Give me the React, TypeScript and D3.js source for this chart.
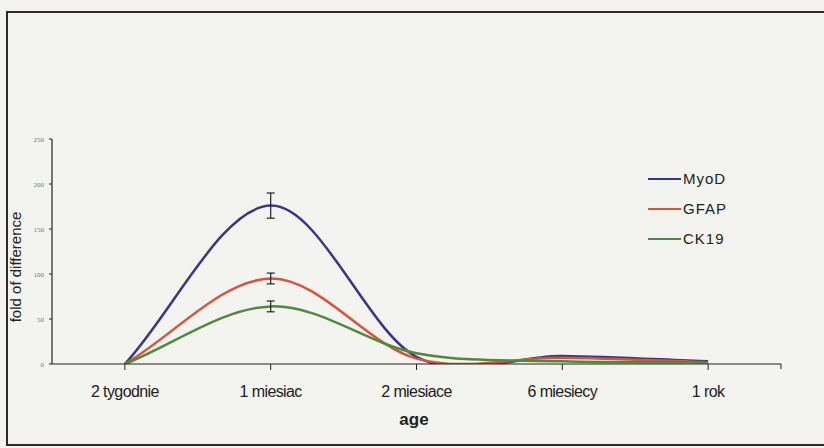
import React, { useRef, useEffect } from 'react'
import * as d3 from 'd3'

const categories = ['2 tygodnie', '1 miesiac', '2 miesiace', '6 miesiecy', '1 rok']
const seriesNames = ['MyoD', 'GFAP', 'CK19']
const myodValues = [0, 176, 8, 9, 3]
const gfapValues = [0, 95, 6, 7, 2]
const ck19Values = [0, 64, 12, 3, 2]
// error bars only at 1 miesiac
const myodErr = [0, 14, 0, 0, 0]
const gfapErr = [0, 6, 0, 0, 0]
const ck19Err = [0, 6, 0, 0, 0]
const yTicks = [0, 50, 100, 150, 200, 250]
const colors = ['#3b3585', '#d9533c', '#4f8a3a']

// excel style smoothed line: catmull-rom inside, secant tangents at the ends
function smoothPath(pts) {
  const p = d3.path()
  const n = pts.length
  const tan = pts.map((pt, i) => {
    const a = pts[Math.max(i - 1, 0)]
    const b = pts[Math.min(i + 1, n - 1)]
    const k = (i === 0 || i === n - 1) ? 1 : 0.5
    return [(b[0] - a[0]) * k, (b[1] - a[1]) * k]
  })
  p.moveTo(pts[0][0], pts[0][1])
  for (let i = 0; i < n - 1; i++) {
    p.bezierCurveTo(
      pts[i][0] + tan[i][0] / 3, pts[i][1] + tan[i][1] / 3,
      pts[i + 1][0] - tan[i + 1][0] / 3, pts[i + 1][1] - tan[i + 1][1] / 3,
      pts[i + 1][0], pts[i + 1][1]
    )
  }
  return p.toString()
}

export default function App() {
  const ref = useRef(null)

  useEffect(() => {
    const svg = d3.select(ref.current)
    svg.selectAll('*').remove()

    const margin = { left: 52, right: 43, top: 139, bottom: 84 }
    const W = 824, H = 448
    const width = W - margin.left - margin.right
    const height = H - margin.top - margin.bottom

    svg.append('rect').attr('width', W).attr('height', H).attr('fill', '#f3f3f0')
    // outer frame
    svg.append('rect')
      .attr('x', 7).attr('y', 12).attr('width', 830).attr('height', 433)
      .attr('fill', 'none').attr('stroke', '#2e2a2a').attr('stroke-width', 2)

    svg.append('defs').append('clipPath').attr('id', 'plotclip')
      .append('rect').attr('x', 0).attr('y', -10).attr('width', width).attr('height', height + 10)

    const g = svg.append('g').attr('transform', 'translate(' + margin.left + ',' + margin.top + ')')

    const x = d3.scaleBand().domain(categories).range([0, width])
    const y = d3.scaleLinear().domain([0, 250]).range([height, 0])
    const cx = d => x(d) + x.bandwidth() / 2

    // y axis
    g.append('line').attr('x1', 0).attr('x2', 0).attr('y1', 0).attr('y2', height)
      .attr('stroke', '#222').attr('stroke-width', 1.2)
    yTicks.forEach(t => {
      g.append('line').attr('x1', -3).attr('x2', 0).attr('y1', y(t)).attr('y2', y(t))
        .attr('stroke', '#222')
      g.append('text').attr('x', -8).attr('y', y(t) + 2.5).attr('text-anchor', 'end')
        .attr('font-family', 'Liberation Serif').attr('font-size', 7).attr('fill', '#777')
        .text(t)
    })

    const allValues = [myodValues, gfapValues, ck19Values]
    const allErr = [myodErr, gfapErr, ck19Err]

    const lines = g.append('g').attr('clip-path', 'url(#plotclip)')
    allValues.forEach((vals, s) => {
      const pts = vals.map((v, i) => [cx(categories[i]), y(v)])
      lines.append('path').attr('d', smoothPath(pts))
        .attr('fill', 'none').attr('stroke', colors[s]).attr('stroke-width', 2.5)
    })

    // x axis
    g.append('line').attr('x1', 0).attr('x2', width).attr('y1', height).attr('y2', height)
      .attr('stroke', '#222').attr('stroke-width', 1.2)
    categories.forEach(c => {
      g.append('line').attr('x1', cx(c)).attr('x2', cx(c)).attr('y1', height).attr('y2', height + 6)
        .attr('stroke', '#222')
      g.append('text').attr('x', cx(c)).attr('y', height + 33).attr('text-anchor', 'middle')
        .attr('font-family', 'Liberation Sans').attr('font-size', 16).attr('fill', '#222')
        .attr('letter-spacing', -0.6)
        .text(c)
    })
    g.append('line').attr('x1', width).attr('x2', width).attr('y1', height).attr('y2', height + 5)
      .attr('stroke', '#222')

    // axis titles
    svg.append('text').attr('x', 414).attr('y', 425).attr('text-anchor', 'middle')
      .attr('font-family', 'Liberation Sans').attr('font-weight', 'bold').attr('font-size', 17)
      .attr('fill', '#222').text('age')
    svg.append('text').attr('transform', 'translate(21,267) rotate(-90)').attr('text-anchor', 'middle')
      .attr('font-family', 'Liberation Sans').attr('font-size', 15).attr('fill', '#222')
      .text('fold of difference')

    // error bars
    allValues.forEach((vals, s) => {
      vals.forEach((v, i) => {
        const e = allErr[s][i]
        if (!e) return
        const px = cx(categories[i])
        g.append('line').attr('x1', px).attr('x2', px).attr('y1', y(v + e)).attr('y2', y(v - e))
          .attr('stroke', '#222').attr('stroke-width', 1.2)
        ;[v + e, v - e].forEach(w => {
          g.append('line').attr('x1', px - 4).attr('x2', px + 4).attr('y1', y(w)).attr('y2', y(w))
            .attr('stroke', '#222').attr('stroke-width', 1.2)
        })
      })
    })

    // legend
    seriesNames.forEach((n, i) => {
      const ly = 179 + i * 30
      svg.append('line').attr('x1', 648).attr('x2', 681).attr('y1', ly).attr('y2', ly)
        .attr('stroke', colors[i]).attr('stroke-width', 2)
      svg.append('text').attr('x', 683).attr('y', ly + 5)
        .attr('font-family', 'Liberation Sans').attr('font-size', 15).attr('fill', '#222')
        .attr('letter-spacing', 1)
        .text(n)
    })
  }, [])

  return (
    <svg
      ref={ref}
      width={824}
      height={448}
      style={{ position: 'fixed', top: 0, left: 0, display: 'block' }}
    />
  )
}
